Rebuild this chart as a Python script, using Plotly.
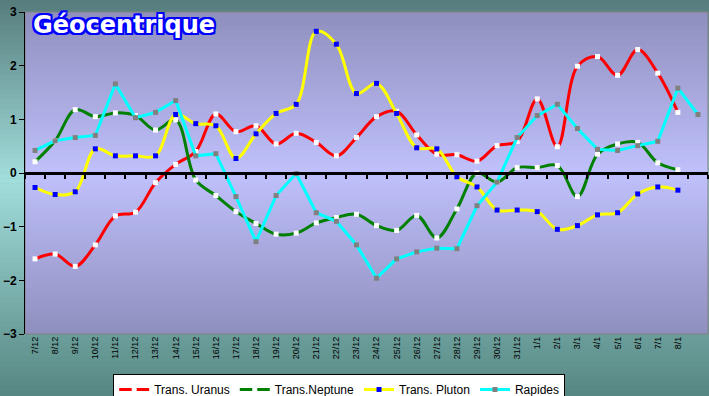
import plotly.graph_objects as go

labels = ["7/12", "8/12", "9/12", "10/12", "11/12", "12/12", "13/12", "14/12", "15/12",
          "16/12", "17/12", "18/12", "19/12", "20/12", "21/12", "22/12", "23/12", "24/12",
          "25/12", "26/12", "27/12", "28/12", "29/12", "30/12", "31/12",
          "1/1", "2/1", "3/1", "4/1", "5/1", "6/1", "7/1", "8/1", ""]

uranus = [-1.60, -1.51, -1.74, -1.34, -0.80, -0.73, -0.18, 0.16, 0.40, 1.10, 0.77, 0.88,
          0.54, 0.74, 0.57, 0.32, 0.66, 1.05, 1.15, 0.71, 0.35, 0.34, 0.22, 0.51, 0.59,
          1.38, 0.49, 1.99, 2.17, 1.82, 2.30, 1.86, 1.13, None]
neptune = [0.21, 0.60, 1.18, 1.05, 1.12, 1.07, 0.80, 0.99, -0.13, -0.42, -0.72, -0.94,
           -1.14, -1.12, -0.93, -0.83, -0.77, -0.98, -1.07, -0.79, -1.21, -0.67, 0.0, -0.17,
           0.10, 0.10, 0.14, -0.44, 0.35, 0.54, 0.57, 0.19, 0.06, None]
pluton = [-0.27, -0.40, -0.35, 0.45, 0.32, 0.32, 0.32, 1.09, 0.92, 0.88, 0.27, 0.73,
          1.11, 1.28, 2.64, 2.40, 1.48, 1.67, 1.11, 0.47, 0.45, -0.07, -0.26, -0.69, -0.69,
          -0.72, -1.05, -0.98, -0.78, -0.74, -0.39, -0.26, -0.32, None]
rapides = [0.42, 0.60, 0.66, 0.70, 1.66, 1.03, 1.13, 1.35, 0.32, 0.36, -0.44, -1.28,
           -0.42, -0.01, -0.74, -0.90, -1.34, -1.96, -1.60, -1.47, -1.40, -1.41, -0.61, -0.17,
           0.66, 1.07, 1.28, 0.83, 0.44, 0.42, 0.51, 0.59, 1.58, 1.09]

series = [
    ("Trans. Uranus", uranus, "#ff0000", "#ffffff", "spline"),
    ("Trans.Neptune", neptune, "#008000", "#ffffff", "spline"),
    ("Trans. Pluton", pluton, "#ffff00", "#0000ff", "spline"),
    ("Rapides", rapides, "#00ffff", "#808080", "linear"),
]

W, H = 709, 396
ML, MR, MT, MB = 25, 1, 12, 62
PW, PH = W - ML - MR, H - MT - MB


def px_x(p):
    return (p - ML) / PW


def px_y(p):
    return (H - MB - p) / PH


def lerp(c1, c2, t):
    return tuple(round(a + (b - a) * t) for a, b in zip(c1, c2))


def grad(stops, t):
    for (t0, c0), (t1, c1) in zip(stops, stops[1:]):
        if t0 <= t <= t1:
            return lerp(c0, c1, (t - t0) / (t1 - t0) if t1 > t0 else 0)
    return stops[-1][1]


shapes = []
# outer background gradient
outer_stops = [(0.0, (86, 124, 124)), (0.45, (162, 222, 220)), (1.0, (86, 134, 130))]
N = 80
for i in range(N):
    y0 = H * i / N
    y1 = H * (i + 1) / N + 0.6
    c = grad(outer_stops, (i + 0.5) / N)
    shapes.append(dict(type="rect", xref="paper", yref="paper", layer="below",
                       x0=px_x(0), x1=px_x(W), y0=px_y(y1), y1=px_y(y0),
                       fillcolor="rgb(%d,%d,%d)" % c, line=dict(width=0)))
# plot area gradient
plot_stops = [(0.0, (143, 143, 190)), (0.5, (192, 192, 252)), (1.0, (143, 143, 190))]
N2 = 70
for i in range(N2):
    y0 = MT + PH * i / N2
    y1 = min(MT + PH * (i + 1) / N2 + 0.6, H - MB)
    c = grad(plot_stops, (i + 0.5) / N2)
    shapes.append(dict(type="rect", xref="paper", yref="paper", layer="below",
                       x0=0, x1=1, y0=px_y(y1), y1=px_y(y0),
                       fillcolor="rgb(%d,%d,%d)" % c, line=dict(width=0)))
# plot border
shapes.append(dict(type="rect", xref="paper", yref="paper", layer="below",
                   x0=0, x1=1, y0=0, y1=1, line=dict(color="#808080", width=1)))

fig = go.Figure()
xs = list(range(len(labels)))
for name, vals, lc, mc, shape in series:
    fig.add_trace(go.Scatter(
        x=xs, y=vals, name=name, mode="lines+markers",
        line=dict(color=lc, width=3, shape=shape, smoothing=1.0),
        marker=dict(symbol="square", size=5, color=mc, line=dict(width=0)),
        connectgaps=False,
    ))

n = len(labels)
fig.update_layout(
    width=W, height=H,
    margin=dict(l=ML, r=MR, t=MT, b=MB, pad=0, autoexpand=False),
    paper_bgcolor="rgb(110,160,158)",
    plot_bgcolor="rgba(0,0,0,0)",
    shapes=shapes,
    showlegend=True,
    legend=dict(orientation="h", x=0.46, xanchor="center", y=-40 / PH, yanchor="top",
                bgcolor="#ffffff", bordercolor="#000000", borderwidth=1,
                font=dict(family="Liberation Sans, Arial", size=12, color="#000000"),
                itemwidth=30, tracegroupgap=0),
    xaxis=dict(range=[-0.5, n - 0.5], tickmode="array", tickvals=xs[:-1],
               ticktext=labels[:-1], tickangle=-90, ticks="", showgrid=False,
               zeroline=False, showline=False, automargin=False,
               tickfont=dict(family="Liberation Sans, Arial", size=9, color="#000000")),
    xaxis2=dict(overlaying="x", anchor="free", position=0.5, side="bottom",
                range=[-0.5, n - 0.5], tickmode="array",
                tickvals=[i - 0.5 for i in range(n + 1)], showticklabels=False,
                ticks="outside", ticklen=4, tickwidth=2, tickcolor="#000000",
                showline=True, linecolor="#000000", linewidth=3, showgrid=False,
                zeroline=False, automargin=False),
    yaxis=dict(range=[-3, 3], tickmode="array", tickvals=[-3, -2, -1, 0, 1, 2, 3],
               ticks="outside", ticklen=5, tickcolor="#000000", showgrid=False,
               zeroline=False, showline=True, linecolor="#000000", linewidth=1,
               automargin=False,
               tickfont=dict(family="Liberation Sans, Arial", size=12, color="#000000",
                             weight="bold")),
    annotations=[dict(
        text="Géocentrique", xref="paper", yref="paper", x=px_x(31), y=px_y(9),
        xanchor="left", yanchor="top", showarrow=False,
        font=dict(family="DejaVu Sans", size=24, color="#ffffff", weight="bold",
                  shadow="2px 0 0 #0000ff, -2px 0 0 #0000ff, 0 2px 0 #0000ff, 0 -2px 0 #0000ff, "
                         "2px 2px 0 #0000ff, -2px -2px 0 #0000ff, 2px -2px 0 #0000ff, -2px 2px 0 #0000ff"),
    )],
)
# dummy trace on xaxis2 to ensure the axis renders
fig.add_trace(go.Scatter(x=[0], y=[None], xaxis="x2", showlegend=False, hoverinfo="skip"))

fig.write_html("out.html")
